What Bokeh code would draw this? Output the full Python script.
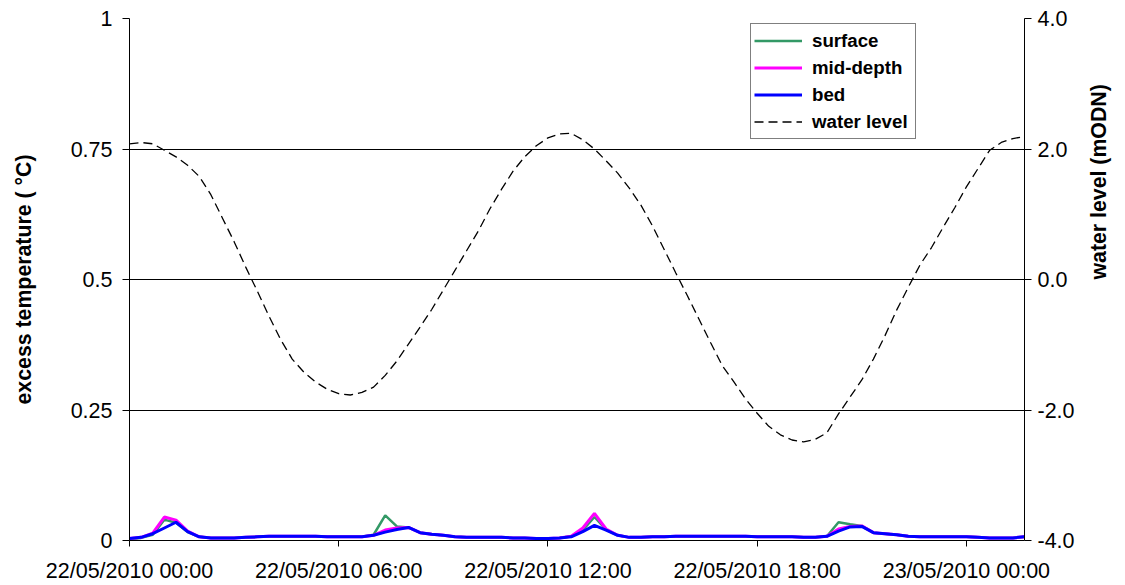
import math
import pandas as pd
from bokeh.plotting import figure
from bokeh.models import (Range1d, LinearAxis, FixedTicker, DatetimeTickFormatter,
                          Legend, LegendItem)
from bokeh.embed import file_html
from bokeh.resources import INLINE

# ---------------- data ----------------
times = pd.date_range("2010-05-22 00:00", periods=78, freq="20min")

surface = [0.003, 0.005, 0.011, 0.040, 0.034, 0.016, 0.007, 0.005, 0.005, 0.005,
           0.006, 0.007, 0.008, 0.008, 0.008, 0.008, 0.008, 0.007, 0.007, 0.007,
           0.007, 0.011, 0.048, 0.027, 0.025, 0.015, 0.012, 0.010, 0.007, 0.006,
           0.006, 0.006, 0.006, 0.005, 0.005, 0.004, 0.004, 0.005, 0.008, 0.020,
           0.045, 0.021, 0.010, 0.006, 0.006, 0.007, 0.007, 0.008, 0.008, 0.008,
           0.008, 0.008, 0.008, 0.008, 0.007, 0.007, 0.007, 0.007, 0.006, 0.006,
           0.008, 0.035, 0.031, 0.028, 0.015, 0.013, 0.011, 0.008, 0.007, 0.007,
           0.007, 0.007, 0.007, 0.006, 0.005, 0.005, 0.005, 0.007]

mid_depth = [0.004, 0.006, 0.014, 0.045, 0.039, 0.018, 0.007, 0.005, 0.005, 0.005,
             0.006, 0.007, 0.008, 0.008, 0.008, 0.008, 0.008, 0.007, 0.007, 0.007,
             0.007, 0.010, 0.020, 0.024, 0.025, 0.015, 0.012, 0.010, 0.007, 0.006,
             0.006, 0.006, 0.006, 0.005, 0.005, 0.004, 0.004, 0.005, 0.008, 0.024,
             0.052, 0.022, 0.010, 0.006, 0.006, 0.007, 0.007, 0.008, 0.008, 0.008,
             0.008, 0.008, 0.008, 0.008, 0.007, 0.007, 0.007, 0.007, 0.006, 0.006,
             0.008, 0.022, 0.027, 0.028, 0.015, 0.013, 0.011, 0.008, 0.007, 0.007,
             0.007, 0.007, 0.007, 0.006, 0.005, 0.005, 0.005, 0.007]

bed = [0.004, 0.006, 0.013, 0.024, 0.035, 0.017, 0.007, 0.005, 0.005, 0.005,
       0.006, 0.007, 0.008, 0.008, 0.008, 0.008, 0.008, 0.007, 0.007, 0.007,
       0.007, 0.010, 0.016, 0.021, 0.025, 0.015, 0.012, 0.010, 0.007, 0.006,
       0.006, 0.006, 0.006, 0.005, 0.005, 0.004, 0.004, 0.005, 0.007, 0.017,
       0.029, 0.020, 0.010, 0.006, 0.006, 0.007, 0.007, 0.008, 0.008, 0.008,
       0.008, 0.008, 0.008, 0.008, 0.007, 0.007, 0.007, 0.007, 0.006, 0.006,
       0.008, 0.018, 0.026, 0.027, 0.015, 0.013, 0.011, 0.008, 0.007, 0.007,
       0.007, 0.007, 0.007, 0.006, 0.005, 0.005, 0.005, 0.007]

water_level = [2.08, 2.10, 2.08, 1.98, 1.88, 1.75, 1.58, 1.30, 0.94, 0.58,
               0.19, -0.18, -0.56, -0.92, -1.22, -1.42, -1.57, -1.68, -1.75, -1.77,
               -1.73, -1.65, -1.47, -1.25, -0.99, -0.73, -0.46, -0.16, 0.14, 0.44,
               0.74, 1.08, 1.38, 1.66, 1.88, 2.05, 2.17, 2.23, 2.24, 2.14,
               2.00, 1.82, 1.63, 1.40, 1.14, 0.82, 0.46, 0.10, -0.25, -0.61,
               -0.97, -1.32, -1.57, -1.83, -2.05, -2.25, -2.38, -2.46, -2.49, -2.45,
               -2.35, -2.06, -1.80, -1.54, -1.22, -0.86, -0.47, -0.12, 0.22, 0.49,
               0.80, 1.10, 1.42, 1.70, 1.98, 2.10, 2.16, 2.19]

x_tick_times = ["2010-05-22 00:00", "2010-05-22 06:00", "2010-05-22 12:00",
                "2010-05-22 18:00", "2010-05-23 00:00"]
temp_ticks = [0, 0.25, 0.5, 0.75, 1]
temp_tick_labels = ["0", "0.25", "0.5", "0.75", "1"]
wl_ticks = [-4, -2, 0, 2, 4]
wl_tick_labels = ["-4.0", "-2.0", "0.0", "2.0", "4.0"]

# ---------------- figure ----------------
FONT = "Liberation Sans"
TICK_FS = "21.5px"
TITLE_FS = "21.3px"

p = figure(width=1125, height=585, x_axis_type="datetime",
           output_backend="svg", toolbar_location=None,
           x_range=Range1d(times[0].to_pydatetime(), times[-1].to_pydatetime()),
           y_range=Range1d(0, 1),
           min_border_left=129, min_border_right=100,
           min_border_top=18, min_border_bottom=45)
p.outline_line_color = None
p.background_fill_color = "white"
p.border_fill_color = "white"
p.extra_y_ranges = {"wl": Range1d(-4, 4)}

# grid
p.xgrid.visible = False
p.ygrid.ticker = FixedTicker(ticks=temp_ticks)
p.ygrid.grid_line_color = "black"
p.ygrid.grid_line_width = 1

# x axis
xax = p.xaxis[0]
xt_ms = [pd.Timestamp(s).value / 1e6 for s in x_tick_times]
xax.ticker = FixedTicker(ticks=xt_ms)
fmt = "%d/%m/%Y %H:%M"
xax.formatter = DatetimeTickFormatter(microseconds=fmt, milliseconds=fmt, seconds=fmt,
                                      minsec=fmt, minutes=fmt, hourmin=fmt, hours=fmt,
                                      days=fmt, months=fmt, years=fmt)
xax.axis_line_color = "black"
xax.major_tick_line_color = "black"
xax.major_tick_out = 6
xax.major_tick_in = 0
xax.minor_tick_line_color = None
xax.major_label_text_font = FONT
xax.major_label_text_font_size = TICK_FS
xax.major_label_text_color = "black"
xax.major_label_standoff = 12

# left axis
yax = p.yaxis[0]
yax.ticker = FixedTicker(ticks=temp_ticks)
yax.major_label_overrides = {t: l for t, l in zip(temp_ticks, temp_tick_labels)}
yax.axis_line_color = "black"
yax.major_tick_line_color = "black"
yax.major_tick_out = 7
yax.major_tick_in = 0
yax.minor_tick_line_color = None
yax.major_label_text_font = FONT
yax.major_label_text_font_size = TICK_FS
yax.major_label_text_color = "black"
yax.major_label_standoff = 10
yax.axis_label = "excess temperature ( °C)"
yax.axis_label_text_font = FONT
yax.axis_label_text_font_size = TITLE_FS
yax.axis_label_text_font_style = "bold"
yax.axis_label_text_color = "black"
yax.axis_label_standoff = 32

# right axis
rax = LinearAxis(y_range_name="wl", ticker=FixedTicker(ticks=wl_ticks))
rax.major_label_overrides = {t: l for t, l in zip(wl_ticks, wl_tick_labels)}
rax.axis_line_color = "black"
rax.major_tick_line_color = "black"
rax.major_tick_out = 7
rax.major_tick_in = 0
rax.minor_tick_line_color = None
rax.major_label_text_font = FONT
rax.major_label_text_font_size = TICK_FS
rax.major_label_text_color = "black"
rax.major_label_standoff = 6
rax.axis_label = "water level (mODN)"
rax.axis_label_text_font = FONT
rax.axis_label_text_font_size = TITLE_FS
rax.axis_label_text_font_style = "bold"
rax.axis_label_text_color = "black"
rax.axis_label_standoff = 21
if "axis_label_orientation" in LinearAxis.properties():
    rax.axis_label_orientation = math.pi / 2
p.add_layout(rax, "right")

# ---------------- glyphs ----------------
r_wl = p.line(times, water_level, y_range_name="wl", line_color="black",
              line_width=1.3, line_dash="9 5")
r_s = p.line(times, surface, line_color="#339966", line_width=2.5)
r_m = p.line(times, mid_depth, line_color="#FF00FF", line_width=3)
r_b = p.line(times, bed, line_color="#0000FF", line_width=3)

legend = Legend(items=[LegendItem(label="surface", renderers=[r_s]),
                       LegendItem(label="mid-depth", renderers=[r_m]),
                       LegendItem(label="bed", renderers=[r_b]),
                       LegendItem(label="water level", renderers=[r_wl])],
                location=(621, 401))
legend.margin = 0
legend.padding = 3
legend.spacing = 0
legend.glyph_width = 48
legend.glyph_height = 27
legend.label_height = 27
legend.label_width = 100
legend.label_standoff = 10
legend.label_text_font = FONT
legend.label_text_font_size = "18.7px"
legend.label_text_font_style = "bold"
legend.label_text_color = "black"
legend.border_line_color = "black"
legend.border_line_width = 1
legend.background_fill_color = "white"
legend.background_fill_alpha = 1
p.add_layout(legend)

open("out.html", "w").write(file_html(p, INLINE))
